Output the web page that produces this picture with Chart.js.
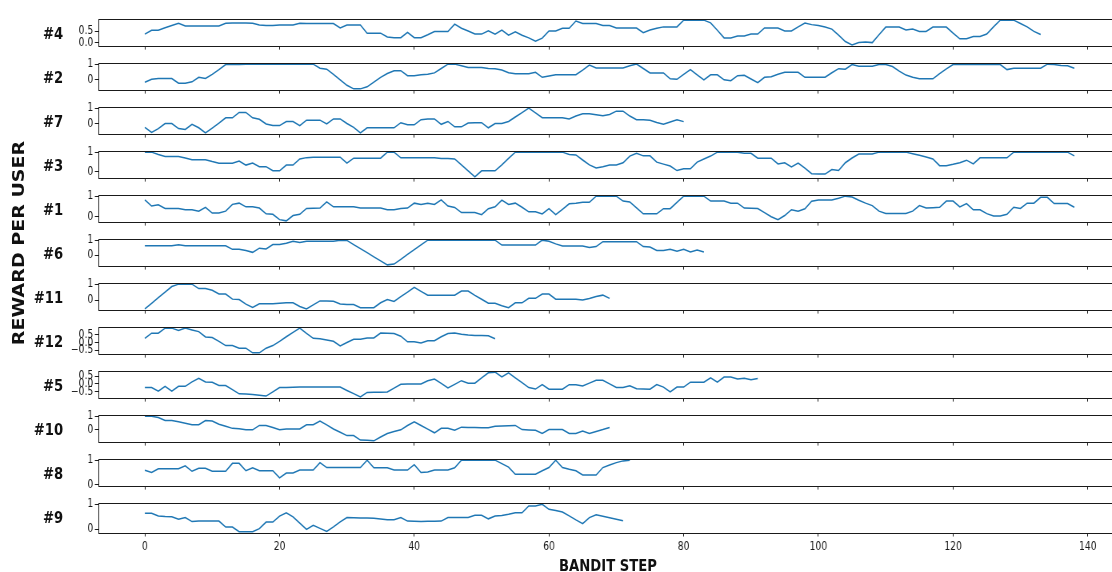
<!DOCTYPE html>
<html lang="en">
<head>
<meta charset="UTF-8">
<title>Reward per user</title>
<script src="https://cdn.jsdelivr.net/npm/chart.js@4"></script>
<style>
    html, body { margin: 0; padding: 0; background: #fff; }
    body { width: 1112px; height: 572px; overflow: hidden; position: relative; }
    /* the reference is squeezed horizontally, so the whole figure is drawn wider and squeezed */
    #fig { position: absolute; left: 0; top: 0; width: 1404px; height: 572px; transform: scaleX(0.8); transform-origin: 0 0; }
    .txt { position: absolute; font-family: "DejaVu Sans", sans-serif; font-weight: bold; color: #111; white-space: nowrap; line-height: 1; }
    .ulabel { font-size: 16.5px; transform: translate(-100%, -50%); }
    #ylab { font-size: 19px; left: 22.5px; top: 243px; transform: translate(-50%, -50%) rotate(-90deg); }
    #xlab { font-size: 16.5px; left: 760px; top: 566px; transform: translate(-50%, -50%); }
</style>
</head>
<body>
<div id="fig">
    <div class="txt" id="ylab">REWARD PER USER</div>
    <div class="txt" id="xlab">BANDIT STEP</div>
</div>
<script>
    const users = ['#4', '#2', '#7', '#3', '#1', '#6', '#11', '#12', '#5', '#10', '#8', '#9'];
    const xTicks = [0, 20, 40, 60, 80, 100, 120, 140];

    const reward4 = [0.38, 0.55, 0.55, 0.66, 0.76, 0.86, 0.74, 0.74, 0.74, 0.74,
        0.74, 0.74, 0.86, 0.87, 0.87, 0.87, 0.86, 0.78, 0.76, 0.76,
        0.78, 0.78, 0.78, 0.86, 0.85, 0.85, 0.85, 0.85, 0.85, 0.65,
        0.78, 0.78, 0.78, 0.42, 0.42, 0.42, 0.25, 0.22, 0.22, 0.46,
        0.22, 0.22, 0.35, 0.49, 0.49, 0.49, 0.82, 0.64, 0.52, 0.38,
        0.38, 0.53, 0.38, 0.56, 0.33, 0.48, 0.33, 0.21, 0.06, 0.20,
        0.52, 0.52, 0.64, 0.64, 0.96, 0.85, 0.85, 0.85, 0.76, 0.76,
        0.65, 0.65, 0.65, 0.65, 0.44, 0.56, 0.64, 0.70, 0.70, 0.70,
        1.0, 1.0, 1.0, 1.0, 0.88, 0.55, 0.21, 0.21, 0.29, 0.29,
        0.38, 0.38, 0.65, 0.65, 0.65, 0.52, 0.52, 0.70, 0.87, 0.80,
        0.76, 0.69, 0.60, 0.33, 0.05, -0.10, 0.0, 0.03, 0.0, 0.35,
        0.69, 0.69, 0.69, 0.56, 0.60, 0.50, 0.50, 0.69, 0.69, 0.69,
        0.42, 0.17, 0.17, 0.27, 0.27, 0.38, 0.70, 1.0, 1.0, 1.0,
        0.85, 0.70, 0.50, 0.36];
    const reward2 = [-0.16, 0.03, 0.08, 0.08, 0.08, -0.22, -0.22, -0.13, 0.16, 0.08,
        0.35, 0.65, 0.97, 0.97, 0.97, 1.0, 1.0, 1.0, 1.0, 1.0,
        1.0, 1.0, 1.0, 1.0, 1.0, 1.0, 0.74, 0.68, 0.35, 0.0,
        -0.35, -0.58, -0.58, -0.45, -0.15, 0.15, 0.40, 0.58, 0.58, 0.26,
        0.26, 0.32, 0.35, 0.44, 0.72, 1.0, 1.0, 0.90, 0.79, 0.79,
        0.79, 0.72, 0.71, 0.62, 0.45, 0.39, 0.39, 0.39, 0.48, 0.16,
        0.24, 0.32, 0.32, 0.32, 0.32, 0.62, 0.94, 0.76, 0.76, 0.76,
        0.76, 0.76, 0.90, 1.0, 0.72, 0.44, 0.44, 0.44, 0.06, 0.03,
        0.35, 0.65, 0.32, 0.0, 0.32, 0.32, 0.0, -0.06, 0.26, 0.29,
        0.05, -0.18, 0.16, 0.19, 0.35, 0.48, 0.48, 0.48, 0.16, 0.16,
        0.16, 0.16, 0.45, 0.71, 0.68, 0.97, 0.87, 0.87, 0.87, 0.97,
        0.97, 0.85, 0.55, 0.30, 0.16, 0.06, 0.06, 0.06, 0.40, 0.70,
        0.97, 1.0, 0.98, 0.97, 0.97, 0.97, 0.97, 0.97, 0.65, 0.74,
        0.74, 0.74, 0.74, 0.74, 1.0, 0.97, 0.92, 0.90, 0.74];
    const reward7 = [-0.21, -0.53, -0.29, 0.03, 0.03, -0.29, -0.34, -0.02, -0.24, -0.56,
        -0.26, 0.05, 0.39, 0.39, 0.73, 0.73, 0.39, 0.30, 0.0, -0.10,
        -0.10, 0.15, 0.15, -0.10, 0.24, 0.24, 0.24, 0.0, 0.32, 0.32,
        0.03, -0.21, -0.56, -0.24, -0.24, -0.24, -0.24, -0.24, 0.08, -0.05,
        -0.05, 0.27, 0.32, 0.32, -0.02, 0.16, -0.18, -0.18, 0.06, 0.08,
        0.08, -0.24, 0.03, 0.03, 0.16, 0.44, 0.72, 1.0, 0.70, 0.40,
        0.40, 0.40, 0.40, 0.31, 0.50, 0.65, 0.65, 0.58, 0.52, 0.60,
        0.81, 0.81, 0.50, 0.27, 0.26, 0.24, 0.10, -0.02, 0.12, 0.27,
        0.15];
    const reward3 = [1.0, 1.0, 0.88, 0.78, 0.78, 0.78, 0.70, 0.61, 0.61, 0.61,
        0.52, 0.44, 0.44, 0.44, 0.55, 0.34, 0.44, 0.26, 0.26, 0.05,
        0.05, 0.34, 0.34, 0.65, 0.72, 0.74, 0.74, 0.74, 0.74, 0.74,
        0.44, 0.69, 0.69, 0.69, 0.69, 0.69, 1.0, 1.0, 0.71, 0.71,
        0.71, 0.71, 0.71, 0.71, 0.68, 0.67, 0.65, 0.35, 0.05, -0.26,
        0.05, 0.05, 0.05, 0.35, 0.68, 1.0, 1.0, 1.0, 1.0, 1.0,
        1.0, 1.0, 1.0, 0.88, 0.86, 0.60, 0.35, 0.19, 0.26, 0.34,
        0.34, 0.46, 0.80, 0.94, 0.81, 0.81, 0.49, 0.39, 0.29, 0.06,
        0.15, 0.15, 0.49, 0.65, 0.80, 1.0, 1.0, 1.0, 1.0, 0.94,
        0.94, 0.69, 0.69, 0.69, 0.40, 0.46, 0.25, 0.44, 0.18, -0.10,
        -0.11, -0.12, 0.11, 0.06, 0.46, 0.70, 0.90, 0.90, 0.90, 1.0,
        1.0, 1.0, 1.0, 1.0, 0.92, 0.84, 0.75, 0.65, 0.31, 0.31,
        0.38, 0.46, 0.59, 0.40, 0.71, 0.71, 0.71, 0.71, 0.71, 1.0,
        1.0, 1.0, 1.0, 1.0, 1.0, 1.0, 1.0, 1.0, 0.81];
    const reward1 = [0.82, 0.52, 0.58, 0.40, 0.40, 0.40, 0.34, 0.34, 0.27, 0.46,
        0.18, 0.18, 0.27, 0.60, 0.66, 0.48, 0.48, 0.42, 0.14, 0.12,
        -0.14, -0.20, 0.06, 0.12, 0.40, 0.41, 0.42, 0.72, 0.48, 0.48,
        0.48, 0.48, 0.42, 0.42, 0.42, 0.42, 0.34, 0.34, 0.40, 0.42,
        0.66, 0.60, 0.66, 0.60, 0.82, 0.52, 0.45, 0.20, 0.20, 0.20,
        0.10, 0.39, 0.48, 0.81, 0.60, 0.66, 0.46, 0.24, 0.24, 0.14,
        0.39, 0.10, 0.36, 0.63, 0.66, 0.70, 0.70, 1.0, 1.0, 1.0,
        1.0, 0.76, 0.72, 0.43, 0.14, 0.14, 0.14, 0.39, 0.39, 0.70,
        1.0, 1.0, 1.0, 1.0, 0.76, 0.76, 0.76, 0.66, 0.66, 0.42,
        0.41, 0.40, 0.20, 0.0, -0.14, 0.06, 0.34, 0.27, 0.39, 0.75,
        0.81, 0.81, 0.81, 0.90, 1.0, 0.96, 0.80, 0.66, 0.54, 0.27,
        0.16, 0.16, 0.16, 0.16, 0.27, 0.54, 0.42, 0.44, 0.46, 0.76,
        0.76, 0.48, 0.64, 0.34, 0.34, 0.15, 0.04, 0.04, 0.12, 0.46,
        0.40, 0.66, 0.66, 0.94, 0.94, 0.64, 0.64, 0.64, 0.46];
    const reward6 = [0.62, 0.62, 0.62, 0.62, 0.62, 0.69, 0.62, 0.62, 0.62, 0.62,
        0.62, 0.62, 0.62, 0.38, 0.38, 0.30, 0.18, 0.46, 0.41, 0.70,
        0.70, 0.79, 0.92, 0.84, 0.92, 0.92, 0.92, 0.92, 0.92, 1.0,
        0.98, 0.70, 0.43, 0.16, -0.12, -0.39, -0.66, -0.61, -0.29, 0.04,
        0.36, 0.68, 1.0, 1.0, 1.0, 1.0, 1.0, 1.0, 1.0, 1.0,
        1.0, 1.0, 1.0, 0.67, 0.67, 0.67, 0.67, 0.67, 0.67, 1.0,
        0.92, 0.75, 0.61, 0.61, 0.61, 0.61, 0.51, 0.57, 0.90, 0.90,
        0.90, 0.90, 0.90, 0.90, 0.57, 0.54, 0.30, 0.30, 0.38, 0.26,
        0.38, 0.21, 0.33, 0.21];
    const reward11 = [-0.55, -0.20, 0.15, 0.50, 0.85, 1.0, 1.0, 1.0, 0.72, 0.72,
        0.62, 0.38, 0.38, 0.06, 0.03, -0.25, -0.46, -0.23, -0.23, -0.23,
        -0.20, -0.17, -0.17, -0.40, -0.55, -0.30, -0.05, -0.06, -0.08, -0.25,
        -0.28, -0.28, -0.48, -0.48, -0.48, -0.17, 0.03, -0.08, 0.22, 0.50,
        0.80, 0.55, 0.31, 0.31, 0.31, 0.31, 0.31, 0.57, 0.57, 0.30,
        0.05, -0.20, -0.20, -0.35, -0.48, -0.17, -0.17, 0.11, 0.11, 0.38,
        0.38, 0.06, 0.06, 0.06, 0.06, 0.0, 0.10, 0.22, 0.31, 0.11];
    const reward12 = [0.28, 0.62, 0.62, 0.95, 0.95, 0.80, 0.95, 0.83, 0.72, 0.37,
        0.33, 0.08, -0.20, -0.20, -0.37, -0.37, -0.68, -0.68, -0.37, -0.20,
        0.08, 0.38, 0.67, 0.95, 0.60, 0.28, 0.25, 0.17, 0.08, -0.22,
        0.0, 0.22, 0.22, 0.30, 0.30, 0.63, 0.62, 0.60, 0.42, 0.05,
        0.05, -0.03, 0.12, 0.12, 0.38, 0.60, 0.63, 0.55, 0.50, 0.47,
        0.46, 0.45, 0.25];
    const reward5 = [-0.24, -0.24, -0.48, -0.16, -0.48, -0.16, -0.16, 0.13, 0.37, 0.13,
        0.11, -0.11, -0.11, -0.38, -0.65, -0.67, -0.69, -0.74, -0.80, -0.52,
        -0.24, -0.23, -0.22, -0.21, -0.21, -0.21, -0.21, -0.21, -0.21, -0.21,
        -0.43, -0.64, -0.85, -0.56, -0.55, -0.54, -0.53, -0.28, -0.03, -0.01,
        0.0, 0.0, 0.21, 0.32, 0.03, -0.27, -0.03, 0.21, 0.05, 0.05,
        0.40, 0.73, 0.77, 0.45, 0.73, 0.40, 0.08, -0.24, -0.34, -0.05,
        -0.35, -0.35, -0.35, -0.05, -0.05, -0.13, 0.05, 0.24, 0.24, 0.0,
        -0.24, -0.24, -0.13, -0.32, -0.34, -0.35, -0.05, -0.21, -0.53, -0.21,
        -0.21, 0.11, 0.11, 0.11, 0.40, 0.11, 0.45, 0.45, 0.32, 0.37,
        0.27, 0.35];
    const reward10 = [1.0, 1.0, 0.90, 0.67, 0.67, 0.58, 0.47, 0.36, 0.36, 0.67,
        0.64, 0.40, 0.24, 0.09, 0.07, -0.02, -0.02, 0.31, 0.31, 0.15,
        -0.02, 0.04, 0.04, 0.04, 0.36, 0.36, 0.64, 0.35, 0.04, -0.20,
        -0.45, -0.45, -0.78, -0.80, -0.84, -0.55, -0.29, -0.15, -0.02, 0.30,
        0.58, 0.30, 0.03, -0.24, 0.09, 0.09, -0.05, 0.18, 0.16, 0.15,
        0.14, 0.13, 0.25, 0.27, 0.29, 0.31, 0.0, -0.03, -0.05, -0.29,
        0.0, 0.0, 0.0, -0.29, -0.29, -0.11, -0.29, -0.14, 0.0, 0.16];
    const reward8 = [0.59, 0.50, 0.65, 0.65, 0.65, 0.65, 0.77, 0.55, 0.67, 0.67,
        0.55, 0.55, 0.55, 0.87, 0.87, 0.57, 0.69, 0.57, 0.57, 0.57,
        0.28, 0.48, 0.48, 0.60, 0.60, 0.60, 0.90, 0.70, 0.70, 0.70,
        0.70, 0.70, 0.70, 1.0, 0.69, 0.69, 0.69, 0.60, 0.60, 0.60,
        0.82, 0.50, 0.52, 0.60, 0.60, 0.60, 0.69, 1.0, 1.0, 1.0,
        1.0, 1.0, 1.0, 0.86, 0.72, 0.43, 0.43, 0.43, 0.43, 0.57,
        0.70, 1.0, 0.70, 0.63, 0.57, 0.40, 0.40, 0.40, 0.70, 0.80,
        0.90, 0.97, 1.0];
    const reward9 = [0.64, 0.64, 0.53, 0.51, 0.50, 0.40, 0.47, 0.31, 0.33, 0.33,
        0.33, 0.33, 0.09, 0.09, -0.09, -0.09, -0.09, 0.03, 0.29, 0.29,
        0.53, 0.66, 0.50, 0.25, 0.0, 0.16, 0.04, -0.08, 0.10, 0.30,
        0.47, 0.46, 0.45, 0.45, 0.44, 0.41, 0.38, 0.38, 0.47, 0.33,
        0.32, 0.31, 0.32, 0.32, 0.33, 0.47, 0.47, 0.47, 0.47, 0.56,
        0.56, 0.42, 0.53, 0.55, 0.60, 0.66, 0.66, 0.93, 0.93, 1.0,
        0.80, 0.75, 0.69, 0.54, 0.38, 0.23, 0.47, 0.58, 0.52, 0.46,
        0.40, 0.34];

    const series = [reward4, reward2, reward7, reward3, reward1, reward6,
        reward11, reward12, reward5, reward10, reward8, reward9];

    const yTicks = [[0, 0.5], [0, 1], [0, 1], [0, 1], [0, 1], [0, 1],
        [0, 1], [-0.5, 0, 0.5], [-0.5, 0, 0.5], [0, 1], [0, 1], [0, 1]];
    const yTickText = [['0.0', '0.5'], ['0', '1'], ['0', '1'], ['0', '1'], ['0', '1'], ['0', '1'],
        ['0', '1'], ['\u22120.5', '0.0', '0.5'], ['\u22120.5', '0.0', '0.5'], ['0', '1'], ['0', '1'], ['0', '1']];
    // #8 keeps 0 inside its y range
    const yFloor = { '#8': 0 };

    const INK = '#1a1a1a';
    const FONT = '"DejaVu Sans", sans-serif';
    const CW = 1404;                 // canvas width before the 0.8 squeeze
    const FIRST_TOP = 12.7, PITCH = 44, FRAME_H = 36, PAD_TOP = 3;

    const maxStep = Math.max(...series.map(s => s.length - 1));
    const xMin = -0.05 * maxStep, xMax = 1.05 * maxStep;

    const framePlugin = {
        id: 'frame',
        afterDraw(chart) {
            const { ctx, chartArea: a } = chart;
            ctx.save();
            ctx.strokeStyle = INK;
            ctx.lineWidth = 1;
            ctx.strokeRect(Math.round(a.left) + 0.5, Math.round(a.top) + 0.5,
                Math.round(a.right - a.left), Math.round(a.bottom - a.top));
            ctx.restore();
        }
    };

    const fig = document.getElementById('fig');

    series.forEach((vals, i) => {
        const last = i === series.length - 1;
        const frameTop = Math.round(FIRST_TOP + PITCH * i);
        const axisH = last ? 26 : 6;

        const canvas = document.createElement('canvas');
        canvas.width = CW;
        canvas.height = PAD_TOP + FRAME_H + axisH;
        canvas.style.cssText = `position:absolute;left:0;top:${frameTop - PAD_TOP}px`;
        fig.appendChild(canvas);

        let lo = Math.min(...vals), hi = Math.max(...vals);
        if (yFloor[users[i]] !== undefined) lo = Math.min(lo, yFloor[users[i]]);
        const margin = (hi - lo) * 0.05;

        new Chart(canvas, {
            type: 'line',
            data: {
                datasets: [{
                    data: vals.map((v, k) => ({ x: k, y: v })),
                    borderColor: '#1f77b4',
                    borderWidth: 1.5,
                    pointRadius: 0,
                    tension: 0,
                    fill: false
                }]
            },
            options: {
                responsive: false,
                animation: false,
                devicePixelRatio: 1,
                layout: { padding: { left: 85, right: 3, top: PAD_TOP, bottom: 0 } },
                plugins: { legend: { display: false }, tooltip: { enabled: false } },
                scales: {
                    x: {
                        type: 'linear',
                        min: xMin,
                        max: xMax,
                        afterBuildTicks: s => { s.ticks = xTicks.map(v => ({ value: v })); },
                        afterFit: s => { s.height = axisH; },
                        grid: { display: true, drawOnChartArea: false, drawTicks: true, tickLength: 3.5, color: INK },
                        border: { display: false },
                        ticks: {
                            display: last, padding: 4, color: INK, autoSkip: false, maxRotation: 0,
                            font: { family: FONT, size: 11.5 }
                        }
                    },
                    y: {
                        min: lo - margin,
                        max: hi + margin,
                        afterBuildTicks: s => { s.ticks = yTicks[i].map(v => ({ value: v })); },
                        afterFit: s => { s.width = 38; },
                        grid: { display: true, drawOnChartArea: false, drawTicks: true, tickLength: 4.4, color: INK },
                        border: { display: false },
                        ticks: {
                            padding: 2, color: INK, autoSkip: false,
                            font: { family: FONT, size: 11.5 },
                            callback: (v, k) => yTickText[i][k]
                        }
                    }
                }
            },
            plugins: [framePlugin]
        });

        const lab = document.createElement('div');
        lab.className = 'txt ulabel';
        lab.textContent = users[i];
        lab.style.left = '79px';
        lab.style.top = (frameTop + FRAME_H / 2 + 3) + 'px';
        fig.appendChild(lab);
    });
</script>
</body>
</html>
